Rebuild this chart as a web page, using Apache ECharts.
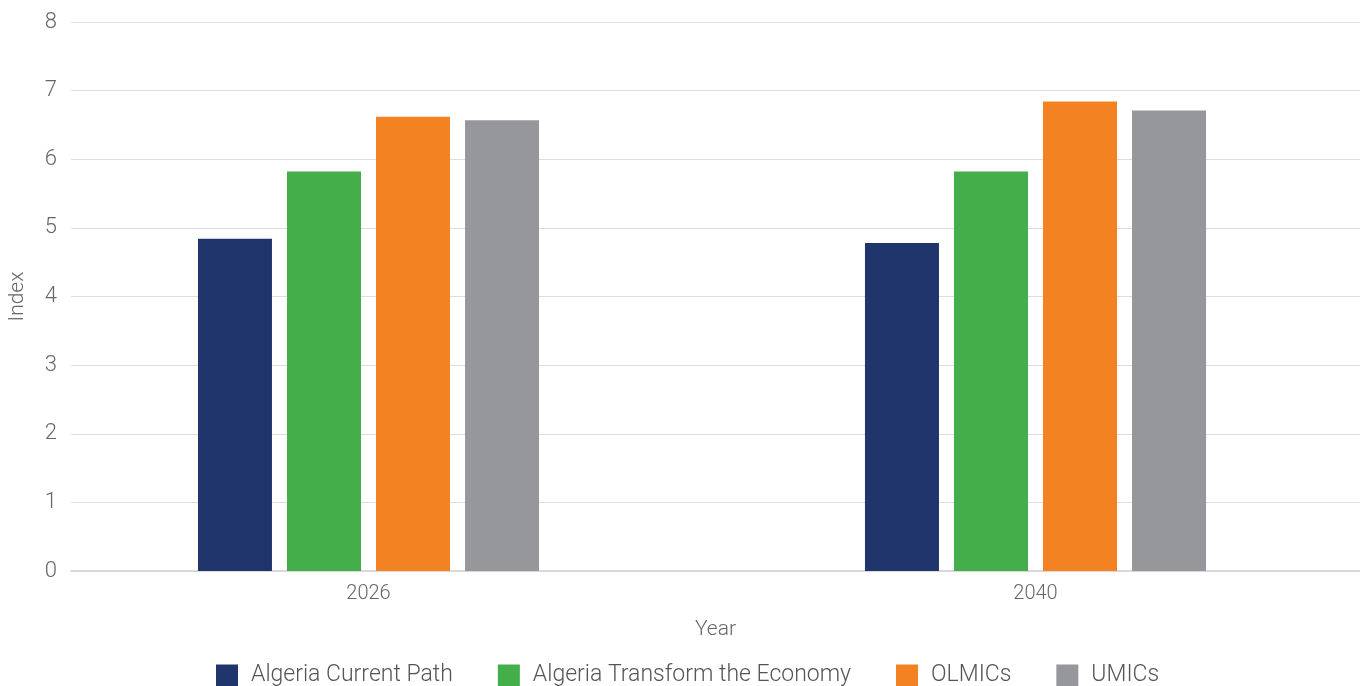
<!DOCTYPE html>
<html><head><meta charset="utf-8">
<script src="https://cdn.jsdelivr.net/npm/echarts@6/dist/echarts.min.js"></script>
<style>html,body{margin:0;padding:0;background:#fff}#c{width:1360px;height:686px}</style>
</head><body><div id="c"></div>
<script>
const categories = ['2026', '2040'];
const seriesNames = ['Algeria Current Path', 'Algeria Transform the Economy', 'OLMICs', 'UMICs'];
const currentPath = [4.84, 4.78];
const transformEconomy = [5.82, 5.82];
const olmics = [6.62, 6.84];
const umics = [6.57, 6.71];
const yTicks = [0, 1, 2, 3, 4, 5, 6, 7, 8];
const colors = ['#1F356C', '#43AE4A', '#F38322', '#96979B'];
const values = [currentPath, transformEconomy, olmics, umics];

const FONT = 'Roboto';
const chart = echarts.init(document.getElementById('c'));
chart.setOption({
  animation: false,
  textStyle: { fontFamily: FONT },
  legend: {
    top: 664, left: 216, padding: 0,
    itemWidth: 22, itemHeight: 22, itemGap: 45,
    icon: 'rect',
    textStyle: { fontSize: 23, color: '#555', fontFamily: FONT, fontWeight: 300, padding: [0, 0, 0, 8] },
    data: seriesNames
  },
  grid: [
    { left: 35, width: 1334, top: 22, bottom: 115, containLabel: false, outerBoundsMode: 'none' },
    { left: 71, right: 0, top: 22, bottom: 115, containLabel: false, outerBoundsMode: 'none' }
  ],
  xAxis: [
    { type: 'category', gridIndex: 0, data: categories,
      axisLine: { show: false }, axisTick: { show: false },
      axisLabel: { fontSize: 20, color: '#666', fontWeight: 300, margin: 13 } },
    { type: 'value', gridIndex: 1, min: 0, max: 1, show: true,
      axisLine: { show: true, lineStyle: { color: '#D9D9D9', width: 2 } },
      axisTick: { show: false }, axisLabel: { show: false }, splitLine: { show: false },
      name: 'Year', nameLocation: 'middle', nameGap: 48,
      nameTextStyle: { fontSize: 21, color: '#666', fontWeight: 300 } }
  ],
  yAxis: [
    { type: 'value', gridIndex: 0, min: yTicks[0], max: yTicks[yTicks.length - 1], interval: 1, show: false },
    { type: 'value', gridIndex: 1, min: yTicks[0], max: yTicks[yTicks.length - 1], interval: 1,
      axisLine: { show: false }, axisTick: { show: false },
      axisLabel: { fontSize: 22, color: '#666', fontWeight: 300, margin: 14 },
      splitLine: { lineStyle: { color: '#DDDDDD', width: 1 } },
      name: 'Index', nameLocation: 'middle', nameGap: 43, nameRotate: 90,
      nameTextStyle: { fontSize: 21, color: '#666', fontWeight: 300 } }
  ],
  series: seriesNames.map((n, i) => ({
    name: n, type: 'bar', xAxisIndex: 0, yAxisIndex: 0,
    data: values[i], barWidth: 74, barGap: '20.3%',
    itemStyle: { color: colors[i] }
  }))
});
</script></body></html>
